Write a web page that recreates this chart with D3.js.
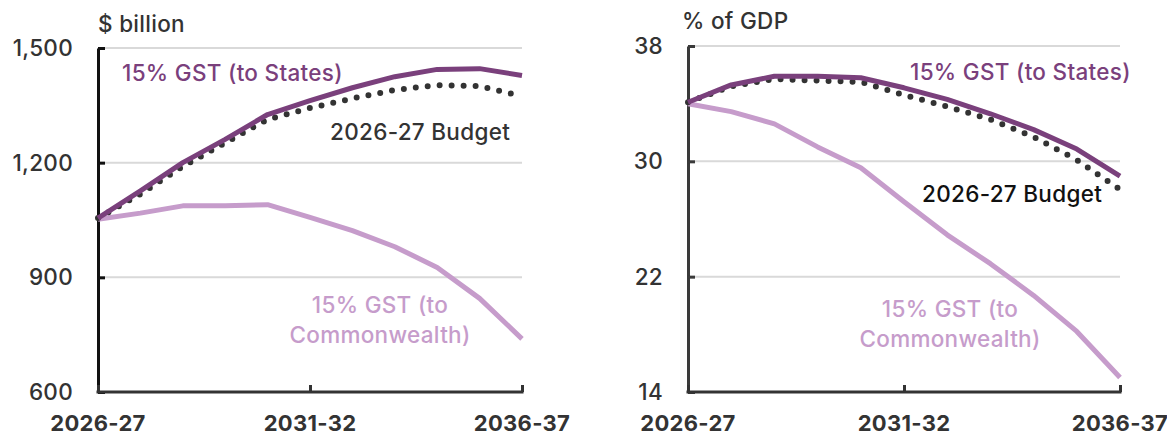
<!DOCTYPE html>
<html>
<head>
<meta charset="utf-8">
<script src="https://cdn.jsdelivr.net/npm/d3@7/dist/d3.min.js"></script>
<style>
  html, body { margin: 0; padding: 0; background: #fff; }
  svg { display: block; }
  text { font-family: "Inter", "Noto Sans", sans-serif; }
</style>
</head>
<body>
<svg id="chart" width="1167" height="437"></svg>
<script>
// Financial years shown on the horizontal axis
const years = ["2026-27", "2027-28", "2028-29", "2029-30", "2030-31", "2031-32",
               "2032-33", "2033-34", "2034-35", "2035-36", "2036-37"];
const yearTicks = ["2026-27", "2031-32", "2036-37"];

// Nominal values, $ billion
const billionStates       = [1055, 1126, 1200, 1261, 1326, 1362, 1396, 1425, 1444, 1446, 1428];
const billionBudget       = [1055, 1118, 1190, 1252, 1313, 1343, 1368, 1390, 1403, 1400, 1374];
const billionCommonwealth = [1052, 1068, 1087, 1087, 1090, 1057, 1022, 980, 926, 845, 739];
const billionTicks = [600, 900, 1200, 1500];

// Share of GDP, per cent
const gdpStates       = [34.1, 35.3, 35.9, 35.9, 35.8, 35.1, 34.3, 33.3, 32.2, 30.85, 28.97];
const gdpBudget       = [34.1, 35.2, 35.7, 35.6, 35.5, 34.6, 33.8, 32.9, 31.7, 30.1, 28.05];
const gdpCommonwealth = [34.0, 33.45, 32.6, 31.0, 29.55, 27.2, 24.9, 22.9, 20.7, 18.2, 15.0];
const gdpTicks = [14, 22, 30, 38];

const COL_STATES = "#7a407c";
const COL_CWLTH  = "#c69ccb";
const COL_BUDGET = "#333333";
const FONT_SIZE = 22.5;

const svg = d3.select("#chart");

function drawPanel(opts) {
  const g = svg.append("g").attr("letter-spacing", 0.3);
  const x = d3.scalePoint().domain(years).range([opts.x0, opts.x1]);
  const y = d3.scaleLinear().domain(opts.domain).range([opts.yBottom, opts.yTop]);

  // gridlines
  g.append("g")
    .selectAll("line")
    .data(opts.ticks.slice(1))
    .join("line")
    .attr("x1", opts.x0).attr("x2", opts.x1)
    .attr("y1", d => y(d)).attr("y2", d => y(d))
    .attr("stroke", "#d9d9d9").attr("stroke-width", 2);

  // y axis with inward ticks
  const yAxis = g.append("g")
    .attr("transform", `translate(${opts.x0},0)`)
    .call(d3.axisRight(y).tickValues(opts.ticks).tickSize(7).tickSizeOuter(0).tickFormat(""));
  yAxis.select(".domain").attr("stroke", opts.yAxisColor).attr("stroke-width", 3);
  yAxis.selectAll(".tick line").attr("stroke", opts.yAxisColor).attr("stroke-width", 3);

  g.append("g")
    .selectAll("text")
    .data(opts.ticks)
    .join("text")
    .attr("x", opts.x0 - 25)
    .attr("y", d => y(d))
    .attr("dy", "0.36em")
    .attr("text-anchor", "end")
    .attr("font-size", FONT_SIZE)
    .attr("font-weight", 500)
    .attr("fill", "#333")
    .text(d => d3.format(",")(d));

  // x axis with inward ticks
  const xAxis = g.append("g")
    .attr("transform", `translate(0,${opts.yBottom})`)
    .call(d3.axisTop(x).tickValues(yearTicks).tickSize(7).tickSizeOuter(0).tickFormat(""));
  xAxis.select(".domain").remove();
  xAxis.selectAll(".tick line").attr("stroke", "#333").attr("stroke-width", 3);
  g.append("line")
    .attr("x1", opts.x0 - 1.5).attr("x2", opts.x1 + 1.5)
    .attr("y1", opts.yBottom).attr("y2", opts.yBottom)
    .attr("stroke", "#333").attr("stroke-width", 3);

  g.append("g")
    .selectAll("text")
    .data(yearTicks)
    .join("text")
    .attr("x", d => x(d))
    .attr("y", opts.yBottom + 39)
    .attr("text-anchor", "middle")
    .attr("font-size", 22)
    .attr("font-weight", 700)
    .attr("fill", "#333")
    .text(d => d);

  // unit label
  g.append("text")
    .attr("x", opts.unitX).attr("y", opts.unitY)
    .attr("font-size", FONT_SIZE).attr("font-weight", 500).attr("fill", "#333")
    .text(opts.unit);

  const line = d3.line().x((d, i) => x(years[i])).y(d => y(d));

  g.append("path").datum(opts.cwlth)
    .attr("d", line).attr("fill", "none")
    .attr("stroke", COL_CWLTH).attr("stroke-width", 5).attr("stroke-linejoin", "round");
  g.append("path").datum(opts.budget)
    .attr("d", line).attr("fill", "none")
    .attr("stroke", COL_BUDGET).attr("stroke-width", 6)
    .attr("stroke-linecap", "round").attr("stroke-dasharray", "0 12");
  g.append("path").datum(opts.states)
    .attr("d", line).attr("fill", "none")
    .attr("stroke", COL_STATES).attr("stroke-width", 5).attr("stroke-linejoin", "round");

  // series labels
  const lab = g.append("g").attr("font-size", FONT_SIZE).attr("font-weight", 500);
  lab.append("text")
    .attr("x", opts.statesLab[0]).attr("y", opts.statesLab[1])
    .attr("fill", COL_STATES).text("15% GST (to States)");
  lab.append("text")
    .attr("x", opts.budgetLab[0]).attr("y", opts.budgetLab[1])
    .attr("fill", opts.budgetLabColor).text("2026-27 Budget");
  const cw = lab.append("text")
    .attr("x", opts.cwLab[0]).attr("y", opts.cwLab[1])
    .attr("text-anchor", "middle").attr("fill", COL_CWLTH);
  cw.append("tspan").attr("x", opts.cwLab[0]).text("15% GST (to");
  cw.append("tspan").attr("x", opts.cwLab[0]).attr("dy", 30).text("Commonwealth)");
}

drawPanel({
  x0: 98, x1: 522, yTop: 48, yBottom: 392,
  domain: [600, 1500], ticks: billionTicks,
  states: billionStates, budget: billionBudget, cwlth: billionCommonwealth,
  yAxisColor: "#111", unit: "$ billion", unitX: 98, unitY: 32,
  statesLab: [122, 81], budgetLab: [330, 140], budgetLabColor: "#333",
  cwLab: [380, 313]
});

drawPanel({
  x0: 688, x1: 1120, yTop: 46, yBottom: 392,
  domain: [14, 38], ticks: gdpTicks,
  states: gdpStates, budget: gdpBudget, cwlth: gdpCommonwealth,
  yAxisColor: "#3a3a3a", unit: "% of GDP", unitX: 682, unitY: 29,
  statesLab: [910, 80], budgetLab: [922, 202], budgetLabColor: "#111",
  cwLab: [950, 317]
});
</script>
</body>
</html>
